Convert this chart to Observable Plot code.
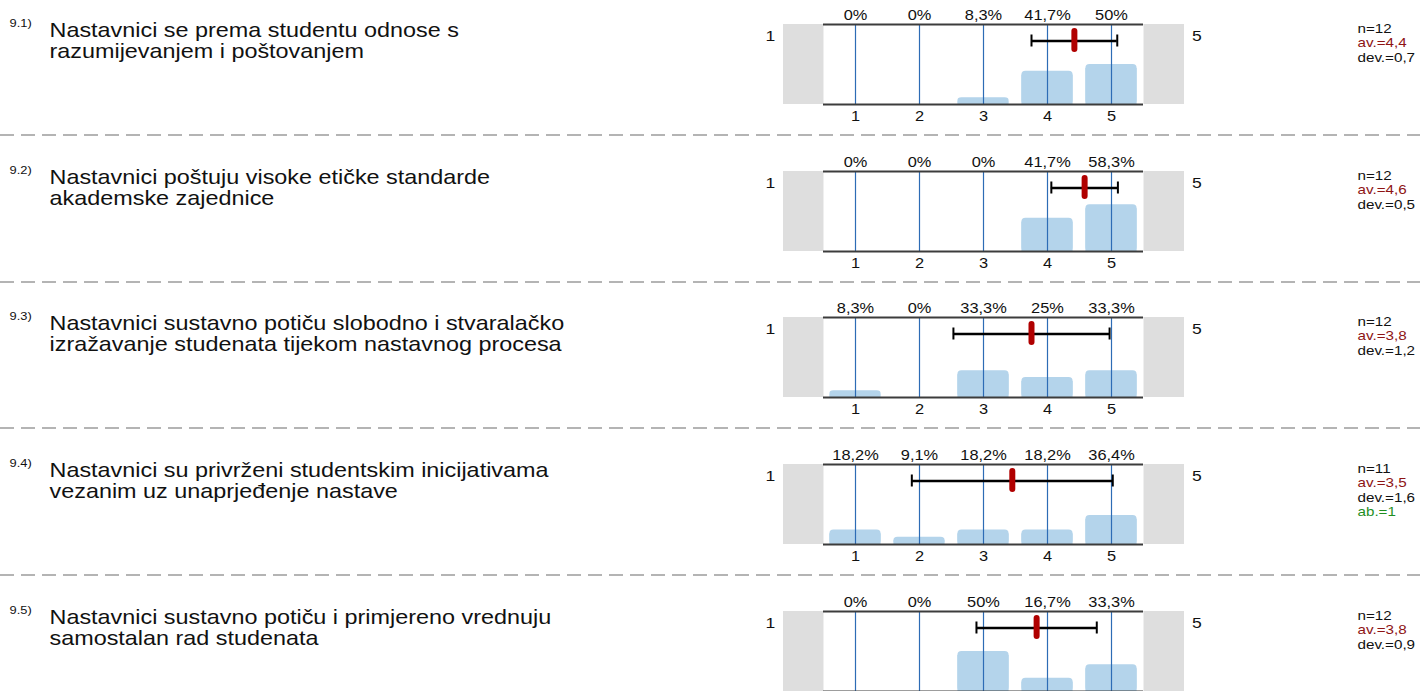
<!DOCTYPE html>
<html>
<head>
<meta charset="utf-8">
<script src="https://cdn.jsdelivr.net/npm/d3@7"></script>
<script src="https://cdn.jsdelivr.net/npm/@observablehq/plot@0.6"></script>
<style>
  html, body { margin: 0; padding: 0; background: #fff; overflow: hidden; }
  #chart { position: relative; width: 1420px; height: 691px; overflow: hidden; background: #fff; }
  #chart svg { position: absolute; left: 0; }
</style>
</head>
<body>
<div id="chart"></div>
<script>
// ---- data ----
const itemNumbers = ["9.1)", "9.2)", "9.3)", "9.4)", "9.5)"];
const questions = [
  "Nastavnici se prema studentu odnose s\nrazumijevanjem i poštovanjem",
  "Nastavnici poštuju visoke etičke standarde\nakademske zajednice",
  "Nastavnici sustavno potiču slobodno i stvaralačko\nizražavanje studenata tijekom nastavnog procesa",
  "Nastavnici su privrženi studentskim inicijativama\nvezanim uz unaprjeđenje nastave",
  "Nastavnici sustavno potiču i primjereno vrednuju\nsamostalan rad studenata"
];
const scalePoints = [1, 2, 3, 4, 5];
const scaleEndLeft = "1";
const scaleEndRight = "5";
const percentages = [
  [0, 0, 8.3, 41.7, 50],
  [0, 0, 0, 41.7, 58.3],
  [8.3, 0, 33.3, 25, 33.3],
  [18.2, 9.1, 18.2, 18.2, 36.4],
  [0, 0, 50, 16.7, 33.3]
];
const nResp = [12, 12, 12, 11, 12];
const means = [4.42, 4.58, 3.75, 3.45, 3.83];
const devs = [0.67, 0.52, 1.22, 1.57, 0.94];
const abstentions = [null, null, null, 1, null];

// ---- layout / style ----
const STRETCH = 1.17;
const FONT = "'Liberation Sans', Arial, Helvetica, sans-serif";
const W = 1420, H = 147, ML = 823, MR = 277, MT = 24, MB = 43;
const STEP = 146.67;
const comma = v => String(v).replace(".", ",");
const fmt1 = v => d3.format(".1f")(v).replace(".", ",");

const chart = document.getElementById("chart");

questions.forEach((q, i) => {
  const bars = scalePoints.map((v, j) => ({value: v, pct: percentages[i][j], label: comma(percentages[i][j]) + "%"}));
  const lo = means[i] - devs[i], hi = means[i] + devs[i];
  const stats = [
    {text: `n=${nResp[i]}`, color: "#111"},
    {text: `av.=${fmt1(means[i])}`, color: "#8e1414"},
    {text: `dev.=${fmt1(devs[i])}`, color: "#111"}
  ];
  if (abstentions[i] != null) stats.push({text: `ab.=${abstentions[i]}`, color: "#1f8f1f"});

  const svg = Plot.plot({
    width: W, height: H,
    marginLeft: ML, marginRight: MR, marginTop: MT, marginBottom: MB,
    x: {type: "linear", domain: [0.5, 5.5], axis: null},
    y: {type: "linear", domain: [0, 100], axis: null},
    style: {fontFamily: FONT, color: "#111", background: "transparent", overflow: "visible"},
    marks: [
      // grey end boxes + white plotting area
      Plot.rect([0], {fill: "#dedede", insetLeft: -40, insetRight: -41}),
      Plot.frame({fill: "#fff", stroke: "none"}),
      // bars (rounded top, square bottom)
      Plot.rect(bars, {x1: d => d.value - 0.4, x2: d => d.value + 0.4, y1: 0, y2: "pct", fill: "#b4d4eb", rx: 4}),
      Plot.rect(bars.filter(d => d.pct > 0), {x1: d => d.value - 0.4, x2: d => d.value + 0.4, y1: 0, y2: "pct", fill: "#b4d4eb", insetTop: 4}),
      // vertical scale lines
      Plot.ruleX(scalePoints, {stroke: "#2d6cb5", strokeWidth: 1.2}),
      // top & bottom lines
      Plot.ruleY([0, 100], {stroke: "#3c3c3c", strokeWidth: 2}),
      // deviation bar
      Plot.ruleY([100], {x1: lo, x2: hi, dy: 16.5, stroke: "#000", strokeWidth: 2.5}),
      Plot.ruleX([lo, hi], {stroke: "#000", strokeWidth: 2, insetTop: 10.5, insetBottom: 57.5}),
      // mean marker
      Plot.ruleX([means[i]], {stroke: "#b00000", strokeWidth: 6, strokeLinecap: "round", insetTop: 7, insetBottom: 55}),
      // percent labels
      Plot.text(bars, {x: "value", text: "label", frameAnchor: "top", dy: -4.5, lineAnchor: "bottom", fontSize: 14}),
      // tick labels
      Plot.text(scalePoints, {x: d => d, text: d => String(d), frameAnchor: "bottom", dy: 16, lineAnchor: "bottom", fontSize: 14}),
      // scale end labels
      Plot.text([scaleEndLeft], {frameAnchor: "top-left", dx: -58, dy: 16.5, textAnchor: "start", lineAnchor: "bottom", fontSize: 15}),
      Plot.text([scaleEndRight], {frameAnchor: "top-right", dx: 48.5, dy: 16.5, textAnchor: "start", lineAnchor: "bottom", fontSize: 15}),
      // item number & question
      Plot.text([itemNumbers[i]], {frameAnchor: "top-left", dx: 9 - ML, dy: 2, textAnchor: "start", lineAnchor: "bottom", fontSize: 11}),
      Plot.text([q], {frameAnchor: "top-left", dx: 49 - ML, dy: 33, textAnchor: "start", lineAnchor: "bottom", lineHeight: 1.05, fontSize: 20}),
      // stats
      ...stats.map((s, j) => Plot.text([s.text], {frameAnchor: "top-left", dx: 1357 - ML, dy: 8 + 14.5 * j, textAnchor: "start", lineAnchor: "bottom", fill: s.color, fontSize: 13})),
      // dashed separator
      Plot.ruleY([0], {dy: 30.5, insetLeft: -ML, insetRight: -MR, stroke: "#b4b4b4", strokeWidth: 2, strokeDasharray: "14,7"})
    ]
  });

  // horizontal stretch of the text, as in the reference
  svg.querySelectorAll("text").forEach(t => {
    const tr = t.getAttribute("transform") || "";
    if (/translate/.test(tr)) t.setAttribute("transform", tr + ` scale(${STRETCH},1)`);
    else {
      const x = parseFloat(t.getAttribute("x")) || 0;
      t.setAttribute("transform", `translate(${x},0) scale(${STRETCH},1) translate(${-x},0)`);
    }
  });

  svg.style.top = (i * STEP) + "px";
  svg.style.maxWidth = "none";
  chart.appendChild(svg);
});
</script>
</body>
</html>
